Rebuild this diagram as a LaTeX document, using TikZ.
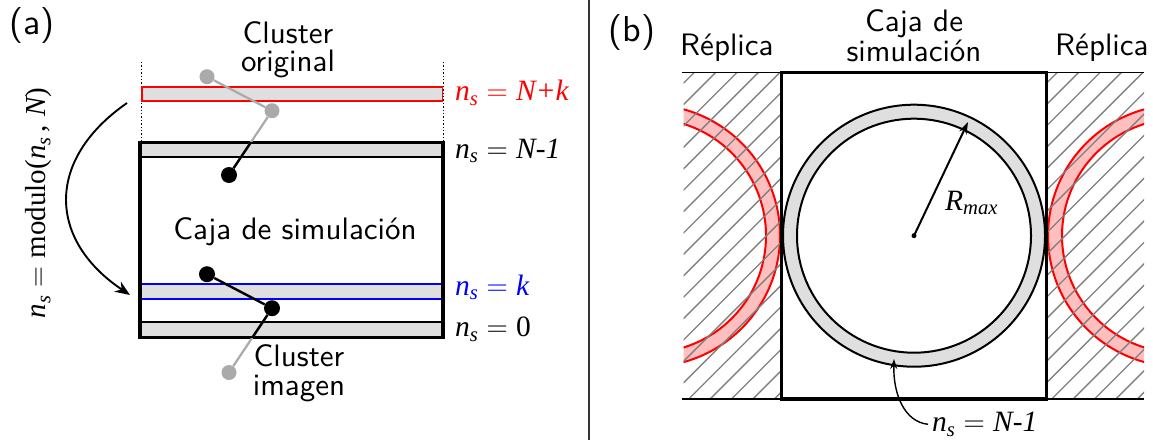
\RequirePackage{fix-cm}
\documentclass[tikz,border=0pt]{standalone}
\usepackage{amstext}
\usepackage{fontspec}
\setsansfont{lmsans10-regular.otf}
\newfontfamily\tms{Liberation Serif}
\newcommand{\tv}[1]{\text{\tms\itshape #1}}
\newcommand{\tu}[1]{\text{\tms #1}}
\usetikzlibrary{arrows.meta}
\begin{document}
\begin{tikzpicture}[x=1pt,y=-1pt,
  sans/.style={font=\sffamily\fontsize{31}{31}\selectfont, inner sep=0pt},
  panel/.style={font=\sffamily\fontsize{36}{36}\selectfont, inner sep=0pt, anchor=base},
  mlabel/.style={font=\fontsize{29.5}{29.5}\selectfont, inner sep=0pt, anchor=base west},
  bandfill/.style={fill=gray!25},
  hatchline/.style={draw=gray, line width=1.35pt},
  graydot/.style={circle, fill=gray!67, inner sep=0pt, minimum size=15pt},
  blackdot/.style={circle, fill=black, inner sep=0pt, minimum size=16pt},
  bondg/.style={draw=gray!67, line width=2.2pt},
  bondk/.style={draw=black, line width=2.4pt},
  boxline/.style={line width=3.4pt},
  ring/.style={line width=2pt}
]
\useasboundingbox (0,0) rectangle (1153,445);

% ---------------- panel (a) ----------------
\node[panel] (la) at (32,34) {(a)};

% dotted guides
\draw[dotted, line width=1.4pt] (141.7,62) -- (141.7,141);
\draw[dotted, line width=1.4pt] (443.3,62) -- (443.3,141);

% red band (original layer)
\draw[red, line width=1.9pt, bandfill] (142.3,86.7) rectangle (442.5,100.7);

% bands inside box
\fill[gray!25] (140,142.7) rectangle (443,157.3);
\draw[line width=1.8pt] (140,157.3) -- (443,157.3);
\fill[gray!25] (140,322.3) rectangle (443,337.3);
\draw[line width=1.8pt] (140,322.3) -- (443,322.3);
\draw[blue, line width=1.9pt, bandfill] (141,284.3) rectangle (442.5,299);

% simulation box
\draw[boxline] (140,142.7) rectangle (443,337.3);

% atoms
\node[graydot] (a1) at (207,76.7) {};
\node[graydot] (a2) at (272,110.7) {};
\node[blackdot] (a3) at (229,175) {};
\node[blackdot] (b1) at (207,274.2) {};
\node[blackdot] (b2) at (272,308.2) {};
\node[graydot] (b3) at (229,372.5) {};

% bonds
\draw[bondg] (a1) -- (a2);
\draw[bondg] (a2) -- (a3);
\draw[bondg] (b2) -- (b3);
\draw[bondk] (b1) -- (b2);
\begin{scope}
  \clip (140,142.7) rectangle (443,337.3);
  \draw[bondk] (a2) -- (a3);
  \draw[bondk] (b2) -- (b3);
\end{scope}

% texts
\node[sans, anchor=base] (co1) at (288,43.3) {Cluster};
\node[sans, anchor=base] (co2) at (288,71.7) {original};
\node[sans, anchor=base] (ci1) at (299,366.5) {Cluster};
\node[sans, anchor=base] (ci2) at (299,395) {imagen};
\node[sans, anchor=base] (caja) at (295,239) {Caja de simulación};

\node[mlabel, red] (l1) at (455,100.7) {$\tv{n}_{\tv{s}} = \tv{N+k}$};
\node[mlabel] (l2) at (455,158.3) {$\tv{n}_{\tv{s}} = \tv{N-1}$};
\node[mlabel, blue] (l3) at (455,295) {$\tv{n}_{\tv{s}} = \tv{k}$};
\node[mlabel] (l4) at (455,336.7) {$\tv{n}_{\tv{s}} = \tu{0}$};

\node[font=\fontsize{29}{29}\selectfont, rotate=90, inner sep=0pt] (mod) at (39,203)
  {$\tv{n}_{\tv{s}} = \tu{modulo(}\tv{n}_{\tv{s}}\,\tu{,}\;\tv{N}\tu{)}$};

\coordinate (arS) at (127,103);
\coordinate (arE) at (130,295);
\draw[-{Stealth[length=15pt,width=12pt]}, line width=1.9pt]
  (arS) .. controls (45,160) and (48,240) .. (arE);

% divider
\draw[line width=1.6pt, black!80] (589,0) -- (589,440);

% ---------------- panel (b) ----------------
\node[panel] (lb) at (632,41) {(b)};

\node[sans, anchor=base west] (rep1) at (680,55) {Réplica};
\node[sans, anchor=base west] (rep2) at (1055,55) {Réplica};
\node[sans, anchor=base] (cb1) at (914,31) {Caja de};
\node[sans, anchor=base] (cb2) at (914,61.7) {simulación};

% left replica
\begin{scope}
  \clip (683.5,72.5) rectangle (781,399);
  \fill[red!25, even odd rule] (649,235.7) circle[radius=131pt] (649,235.7) circle[radius=117pt];
  \draw[red, ring] (649,235.7) circle[radius=131pt];
  \draw[red, ring] (649,235.7) circle[radius=117pt];
  \foreach \k in {-18,...,6}
    \draw[hatchline] ({1087.7+21.4*\k-420},420) -- ({1087.7+21.4*\k-50},50);
\end{scope}

% right replica
\begin{scope}
  \clip (1046,72.5) rectangle (1144,399);
  \fill[red!25, even odd rule] (1179,235.7) circle[radius=131pt] (1179,235.7) circle[radius=117pt];
  \draw[red, ring] (1179,235.7) circle[radius=131pt];
  \draw[red, ring] (1179,235.7) circle[radius=117pt];
  \foreach \k in {-18,...,6}
    \draw[hatchline] ({1450.7+21.4*\k-420},420) -- ({1450.7+21.4*\k-50},50);
\end{scope}

% replica borders
\draw[line width=1.9pt] (681.7,72.5) -- (781.5,72.5);
\draw[line width=1.9pt] (681.7,399) -- (781.5,399);
\draw[line width=1.9pt] (1046.5,72.5) -- (1144,72.5);
\draw[line width=1.9pt] (1046.5,399) -- (1144,399);

% main ring
\fill[gray!25, even odd rule] (914,235.7) circle[radius=131pt] (914,235.7) circle[radius=117pt];
\draw[ring] (914,235.7) circle[radius=131pt];
\draw[ring] (914,235.7) circle[radius=117pt];

% simulation box (b)
\draw[boxline] (781.5,72.5) rectangle (1046.5,399);

% R_max
\node[circle, fill, inner sep=0pt, minimum size=5pt] (ctr) at (914,235.7) {};
\coordinate (rtip) at (968,122);
\draw[-{Stealth[length=12pt,width=8pt]}, line width=2pt] (ctr.center) -- (rtip);
\node[mlabel] (rmax) at (945,210) {$\tv{R}_{\tv{max}}$};

% bottom label and curved arrow
\node[mlabel] (nsb) at (932,431.7) {$\tv{n}_{\tv{s}} = \tv{N-1}$};
\coordinate (ptip) at (894,359);
\draw[-{Stealth[length=10pt,width=7pt]}, line width=1.4pt]
  ([xshift=-4pt]nsb.west) .. controls (905,422) and (893,395) .. (ptip);
\end{tikzpicture}
\end{document}
